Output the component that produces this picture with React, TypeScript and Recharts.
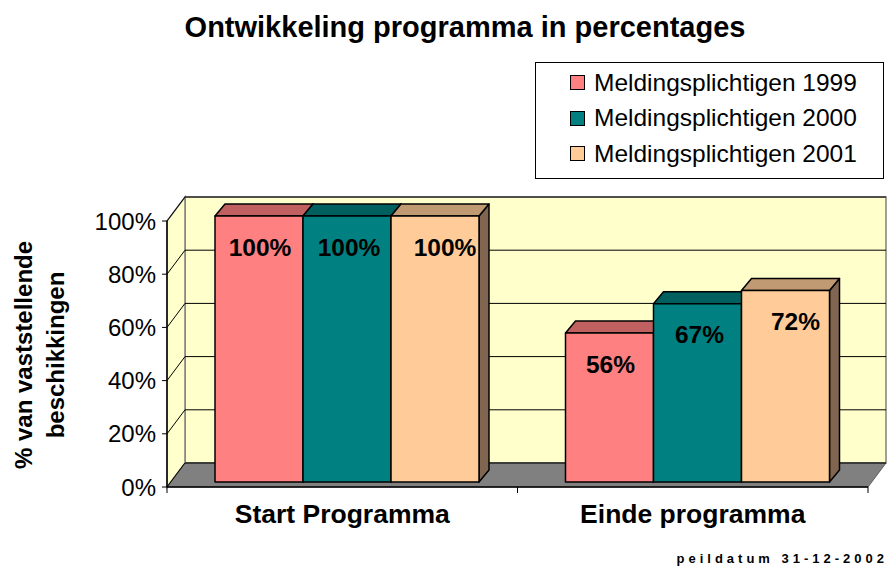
import React from "react";
import {
  BarChart,
  Bar,
  XAxis,
  YAxis,
  CartesianGrid,
  ReferenceArea,
  LabelList,
  Label,
} from "recharts";

const categories = ["Start Programma", "Einde programma"];
const seriesNames = [
  "Meldingsplichtigen 1999",
  "Meldingsplichtigen 2000",
  "Meldingsplichtigen 2001",
];
const values1999 = [100, 56];
const values2000 = [100, 67];
const values2001 = [100, 72];
const yTicks = [0, 20, 40, 60, 80, 100];

const data = categories.map((name, i) => ({
  name,
  y1999: values1999[i],
  y2000: values2000[i],
  y2001: values2001[i],
}));

const FONT = "'Liberation Sans', Arial, sans-serif";

// depth of the back wall and of the bars (excel 3d look)
const WALL_DX = 18;
const WALL_DY = 24;
const BAR_SHIFT = 5;
const BAR_DX = 10;
const BAR_DY = 12;

const series = [
  { key: "y1999", name: seriesNames[0], front: "#FF8080", top: "#C06060", side: "#A04F4F", labelDx: 1 },
  { key: "y2000", name: seriesNames[1], front: "#008080", top: "#006060", side: "#004F4F", labelDx: 2 },
  { key: "y2001", name: seriesNames[2], front: "#FFCC99", top: "#C09A73", side: "#806650", labelDx: 10 },
];

function makeBarShape(top: string, side: string) {
  return (props: any) => {
    const { x, y, width, height, fill } = props;
    if (height == null || height <= 0) return <g />;
    const fx = x + BAR_SHIFT;
    const fy = y - BAR_SHIFT;
    const b = fy + height;
    return (
      <g stroke="#000" strokeWidth={1.5} strokeLinejoin="round">
        <polygon
          points={`${fx + width},${fy} ${fx + width + BAR_DX},${fy - BAR_DY} ${fx + width + BAR_DX},${b - BAR_DY} ${fx + width},${b}`}
          fill={side}
        />
        <polygon
          points={`${fx},${fy} ${fx + BAR_DX},${fy - BAR_DY} ${fx + width + BAR_DX},${fy - BAR_DY} ${fx + width},${fy}`}
          fill={top}
        />
        <rect x={fx} y={fy} width={width} height={height} fill={fill} />
      </g>
    );
  };
}

function WallShape(props: any) {
  const { x, y, width, height } = props;
  const b = y + height;
  const r = x + width;
  return (
    <g>
      {/* back wall */}
      <rect
        x={x + WALL_DX}
        y={y - WALL_DY}
        width={width}
        height={height}
        fill="#FFFFCC"
        stroke="#808080"
        strokeWidth={1.5}
      />
      {/* left side wall */}
      <polygon
        points={`${x},${y} ${x + WALL_DX},${y - WALL_DY} ${x + WALL_DX},${b - WALL_DY} ${x},${b}`}
        fill="#FFFFCC"
        stroke="#808080"
        strokeWidth={1.5}
      />
      {/* floor */}
      <polygon
        points={`${x},${b} ${x + WALL_DX},${b - WALL_DY} ${r + WALL_DX},${b - WALL_DY} ${r},${b}`}
        fill="#808080"
        stroke="#606060"
        strokeWidth={1}
      />
      {/* small ticks under the category axis */}
      <g stroke="#000" strokeWidth={1}>
        <line x1={x} y1={b} x2={x} y2={b + 6} />
        <line x1={x + width / 2} y1={b} x2={x + width / 2} y2={b + 6} />
        <line x1={r} y1={b} x2={r} y2={b + 6} />
      </g>
    </g>
  );
}

function gridLine(props: any) {
  const { x1, y1, x2, index } = props;
  if (y1 == null) return <g />;
  return (
    <g key={`g-${index}-${y1}`} stroke="#000" strokeWidth={1}>
      <line x1={x1} y1={y1} x2={x1 + WALL_DX} y2={y1 - WALL_DY} />
      <line x1={x1 + WALL_DX} y1={y1 - WALL_DY} x2={x2 + WALL_DX} y2={y1 - WALL_DY} />
    </g>
  );
}

function makeValueLabel(dx: number) {
  return (props: any) => {
    const { x, y, width, value } = props;
    return (
      <text
        x={x + BAR_SHIFT + width / 2 + dx}
        y={y - BAR_SHIFT + 31}
        textAnchor="middle"
        dominantBaseline="central"
        fontFamily={FONT}
        fontWeight="bold"
        fontSize={24.5}
        fill="#000"
      >
        {value}%
      </text>
    );
  };
}

function CategoryTick(props: any) {
  const { x, y, payload } = props;
  return (
    <text
      x={x}
      y={y + 28}
      textAnchor="middle"
      fontFamily={FONT}
      fontWeight="bold"
      fontSize={26.5}
      fill="#000"
    >
      {payload.value}
    </text>
  );
}

function YTitle() {
  const cy = 355;
  return (
    <g fontFamily={FONT} fontWeight="bold" fontSize={24} fill="#000">
      <text x={23} y={cy} textAnchor="middle" dominantBaseline="central" transform={`rotate(-90 23 ${cy})`}>
        % van vaststellende
      </text>
      <text x={55} y={cy} textAnchor="middle" dominantBaseline="central" transform={`rotate(-90 55 ${cy})`}>
        beschikkingen
      </text>
    </g>
  );
}

function LegendBox() {
  return (
    <div
      style={{
        position: "absolute",
        left: 535,
        top: 62,
        width: 347,
        height: 113,
        border: "1px solid #000",
        background: "#fff",
        fontFamily: FONT,
        fontSize: 24.5,
        color: "#000",
        paddingTop: 2,
        boxSizing: "content-box",
      }}
    >
      {series.map((s) => (
        <div key={s.key} style={{ display: "flex", alignItems: "center", height: 35.5, paddingLeft: 34 }}>
          <span
            style={{
              display: "inline-block",
              width: 13,
              height: 13,
              background: s.front,
              border: "1px solid #000",
              marginRight: 9,
              flexShrink: 0,
            }}
          />
          <span style={{ whiteSpace: "nowrap" }}>{s.name}</span>
        </div>
      ))}
    </div>
  );
}

export default function App() {
  return (
    <div style={{ position: "absolute", left: 0, top: 0, width: 892, height: 570, background: "#fff" }}>
      <div
        style={{
          position: "absolute",
          left: 0,
          top: 10,
          width: 930,
          textAlign: "center",
          fontFamily: FONT,
          fontWeight: "bold",
          fontSize: 29,
          lineHeight: "34px",
          color: "#000",
          whiteSpace: "nowrap",
        }}
      >
        Ontwikkeling programma in percentages
      </div>
      <BarChart
        width={892}
        height={570}
        data={data}
        margin={{ top: 221, right: 24, bottom: 53, left: 0 }}
        barCategoryGap={43}
        barGap={0}
      >
        <ReferenceArea y1={0} y2={100} shape={WallShape} ifOverflow="visible" zIndex={-200} />
        <CartesianGrid horizontal={gridLine} vertical={false} />
        <XAxis
          dataKey="name"
          height={30}
          axisLine={{ stroke: "#000", strokeWidth: 1.5 }}
          tickLine={false}
          tick={CategoryTick}
          interval={0}
        />
        <YAxis
          width={167}
          domain={[0, 100]}
          ticks={yTicks}
          interval={0}
          tickFormatter={(v: number) => `${v}%`}
          axisLine={{ stroke: "#000", strokeWidth: 1.5 }}
          tickLine={{ stroke: "#000" }}
          tickSize={5}
          tickMargin={6}
          tick={{ fontFamily: FONT, fontSize: 24, fill: "#000" }}
        >
          <Label content={YTitle} />
        </YAxis>
        {series.map((s) => (
          <Bar
            key={s.key}
            dataKey={s.key}
            name={s.name}
            fill={s.front}
            shape={makeBarShape(s.top, s.side)}
            isAnimationActive={false}
          >
            <LabelList dataKey={s.key} content={makeValueLabel(s.labelDx)} />
          </Bar>
        ))}
      </BarChart>
      <LegendBox />
      <div
        style={{
          position: "absolute",
          right: 4,
          top: 551,
          fontFamily: FONT,
          fontWeight: "bold",
          fontSize: 13,
          letterSpacing: 4,
          color: "#000",
          whiteSpace: "nowrap",
        }}
      >
        peildatum 31-12-2002
      </div>
    </div>
  );
}
